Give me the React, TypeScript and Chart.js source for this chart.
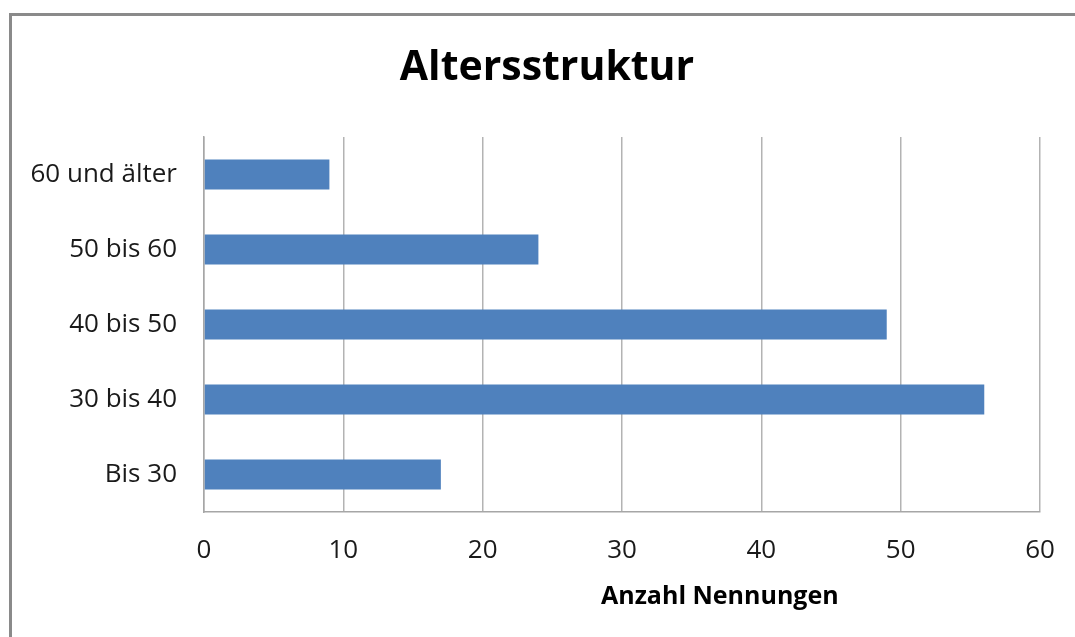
import React, { useEffect, useRef } from "react";
import { Chart, registerables } from "chart.js";

Chart.register(...registerables);

const categories = ["Bis 30", "30 bis 40", "40 bis 50", "50 bis 60", "60 und älter"];
const counts = [17, 56, 49, 24, 9];
const xTicks = [0, 10, 20, 30, 40, 50, 60];
const chartTitle = "Altersstruktur";
const xAxisTitle = "Anzahl Nennungen";

const FONT = "'Open Sans', 'Noto Sans', sans-serif";

const titlesPlugin = {
  id: "excelTitles",
  afterDraw(chart: any) {
    const { ctx, chartArea } = chart;
    ctx.save();
    ctx.fillStyle = "#000000";
    ctx.textAlign = "center";
    ctx.textBaseline = "alphabetic";
    ctx.font = `bold 41px ${FONT}`;
    ctx.fillText(chartTitle, 547, 80);
    ctx.font = `bold 25px ${FONT}`;
    const x = chartArea.left + (chartArea.right - chartArea.left) * 0.617;
    ctx.fillText(xAxisTitle, x, chartArea.bottom + 92);
    ctx.restore();
  },
};

export default function App() {
  const ref = useRef<HTMLCanvasElement | null>(null);

  useEffect(() => {
    if (!ref.current) return;
    const chart = new Chart(ref.current, {
      type: "bar",
      data: {
        labels: categories,
        datasets: [
          {
            label: "Anzahl",
            data: counts,
            backgroundColor: "#4f81bd",
            borderWidth: 0,
            categoryPercentage: 1,
            barPercentage: 0.4,
          },
        ],
      },
      plugins: [titlesPlugin],
      options: {
        indexAxis: "y",
        animation: false,
        responsive: false,
        maintainAspectRatio: false,
        layout: { padding: { left: 0, right: 35, top: 137, bottom: 0 } },
        plugins: {
          legend: { display: false },
          tooltip: { enabled: false },
          title: { display: false },
        },
        scales: {
          x: {
            min: 0,
            max: 60,
            afterBuildTicks: (scale: any) => {
              scale.ticks = xTicks.map((v) => ({ value: v }));
            },
            afterFit: (scale: any) => {
              scale.height = 125;
              scale.paddingLeft = 0;
              scale.paddingRight = 0;
            },
            grid: {
              display: true,
              color: "#b3b3b3",
              lineWidth: 1.5,
              drawTicks: false,
            },
            border: { display: true, color: "#a6a6a6", width: 1.5 },
            ticks: {
              color: "#1a1a1a",
              font: { family: FONT, size: 26 },
              padding: 23,
              maxRotation: 0,
            },
          },
          y: {
            reverse: true,
            afterFit: (scale: any) => {
              scale.width = 204;
              scale.paddingTop = 0;
              scale.paddingBottom = 0;
            },
            grid: { display: false, drawTicks: false },
            border: { display: true, color: "#a6a6a6", width: 1.5 },
            ticks: {
              color: "#1a1a1a",
              font: { family: FONT, size: 26 },
              padding: 27,
            },
          },
        },
      },
    });
    return () => chart.destroy();
  }, []);

  return (
    <div
      style={{
        position: "absolute",
        left: 0,
        top: 0,
        width: 1075,
        height: 637,
        overflow: "hidden",
        background: "#ffffff",
      }}
    >
      <div
        style={{
          position: "absolute",
          left: 9,
          top: 13,
          width: 1200,
          height: 800,
          border: "3px solid #8a8a8a",
          boxSizing: "border-box",
        }}
      />
      <canvas
        ref={ref}
        width={1075}
        height={637}
        style={{ position: "absolute", left: 0, top: 0, width: 1075, height: 637 }}
      />
    </div>
  );
}
